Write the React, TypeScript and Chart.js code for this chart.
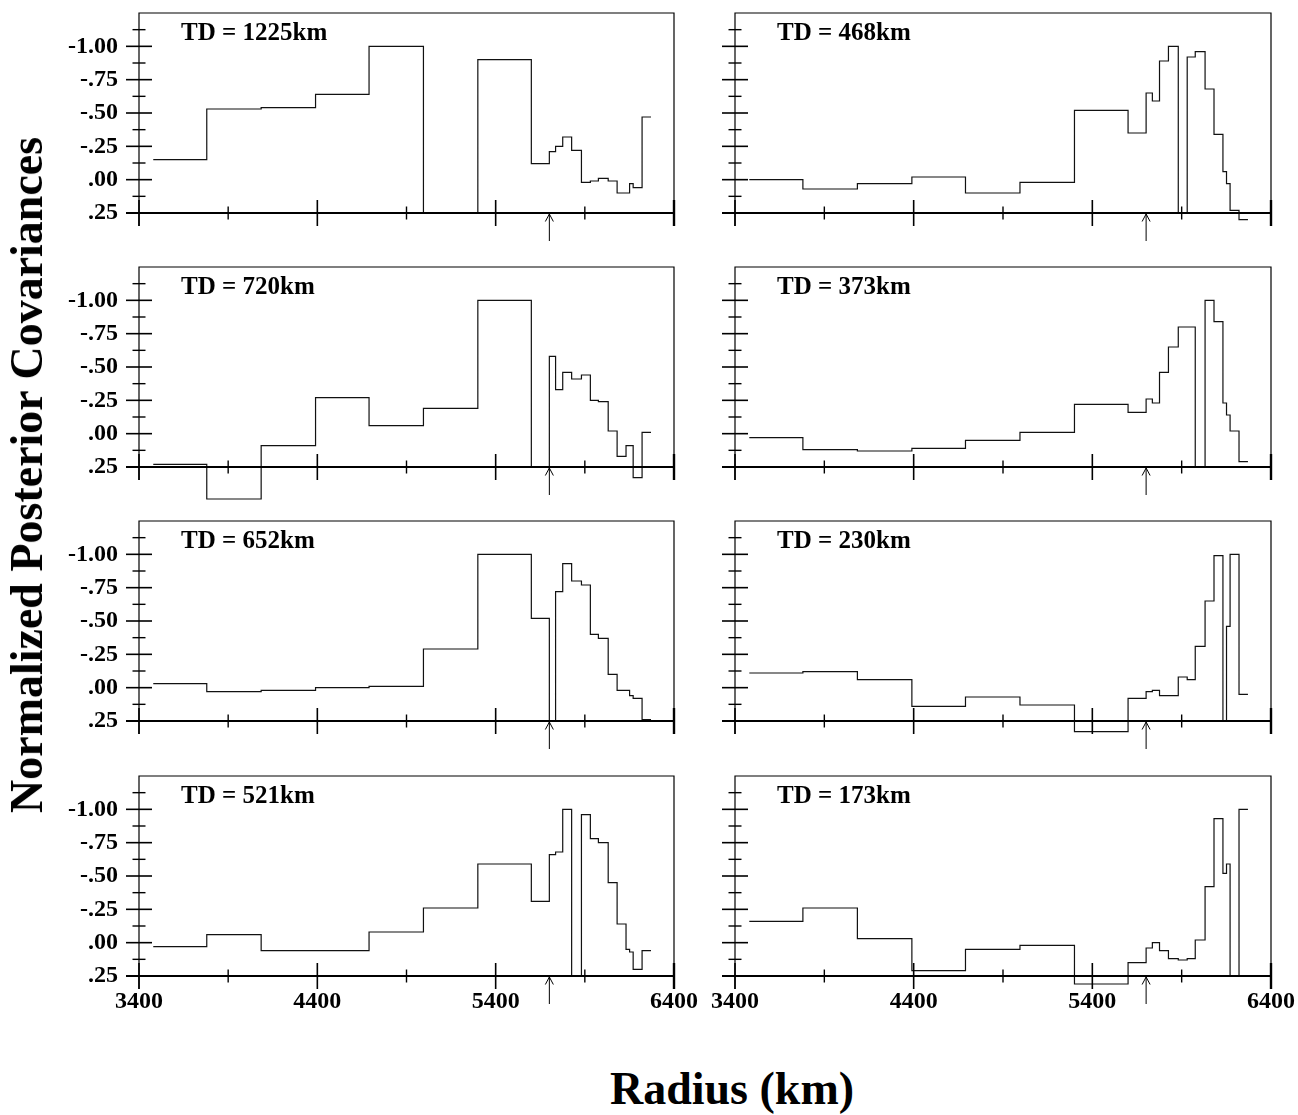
import React, { useEffect, useRef } from "react";
import { Chart, registerables } from "chart.js";

Chart.register(...registerables);

// Layer boundaries in radius (km), core-mantle boundary up to 100 km depth
const layerEdgesKm = [
  3480, 3780, 4085, 4390, 4690, 4995, 5300, 5600, 5701, 5736, 5776, 5826,
  5881, 5931, 5976, 6031, 6081, 6131, 6151, 6171, 6221, 6271,
];

// Normalized posterior covariance per layer, one list per target depth
const td1225 = [-0.15, -0.53, -0.54, -0.64, -1.0, 0.25, -0.9, -0.12, -0.21, -0.25, -0.32, -0.22, 0.02, 0.01, -0.01, 0.01, 0.1, 0.1, 0.03, 0.06, -0.47];
const td720 = [0.23, 0.49, 0.09, -0.27, -0.06, -0.19, -1.0, 0.25, -0.58, -0.33, -0.46, -0.41, -0.44, -0.25, -0.24, -0.02, 0.17, 0.09, 0.09, 0.33, -0.01];
const td652 = [-0.03, 0.03, 0.02, 0.0, -0.01, -0.29, -1.0, -0.52, 0.25, -0.72, -0.93, -0.8, -0.77, -0.4, -0.37, -0.1, 0.02, 0.02, 0.06, 0.08, 0.24];
const td521 = [0.03, -0.06, 0.06, 0.06, -0.08, -0.26, -0.59, -0.31, -0.66, -0.68, -1.0, 0.25, -0.96, -0.78, -0.75, -0.45, -0.14, 0.05, 0.07, 0.2, 0.06];
const td468 = [0.0, 0.07, 0.03, -0.02, 0.1, 0.02, -0.52, -0.35, -0.65, -0.59, -0.89, -1.0, 0.25, -0.92, -0.96, -0.68, -0.34, -0.06, 0.03, 0.23, 0.3];
const td373 = [0.03, 0.12, 0.13, 0.11, 0.05, -0.01, -0.22, -0.16, -0.26, -0.23, -0.46, -0.65, -0.8, -0.8, 0.25, -1.0, -0.84, -0.23, -0.14, -0.02, 0.21];
const td230 = [-0.11, -0.12, -0.06, 0.14, 0.07, 0.13, 0.33, 0.08, 0.03, 0.02, 0.06, 0.06, -0.08, -0.06, -0.31, -0.65, -0.99, 0.25, -0.46, -1.0, 0.05];
const td173 = [-0.16, -0.26, -0.03, 0.21, 0.05, 0.02, 0.31, 0.15, 0.04, 0.0, 0.06, 0.12, 0.13, 0.12, -0.02, -0.42, -0.93, -0.52, -0.59, 0.25, -1.0];

const leftLabels = ["TD = 1225km", "TD = 720km", "TD = 652km", "TD = 521km"];
const rightLabels = ["TD = 468km", "TD = 373km", "TD = 230km", "TD = 173km"];
const leftSeries = [td1225, td720, td652, td521];
const rightSeries = [td468, td373, td230, td173];

const xTickValues = [3400, 4400, 5400, 6400];
const xMinorTicks = [3900, 4900, 5900];
const yTickValues = [-1.0, -0.75, -0.5, -0.25, 0.0, 0.25];
const yTickLabels = ["-1.00", "-.75", "-.50", "-.25", ".00", ".25"];
const yMinorTicks = [-1.125, -0.875, -0.625, -0.375, -0.125, 0.125];
const discontinuityKm = 5701; // 670 km discontinuity

const SERIF = '"Liberation Serif", "Times New Roman", serif';

function stepPoints(values: number[]) {
  const pts: { x: number; y: number }[] = [];
  values.forEach((v, i) => {
    pts.push({ x: layerEdgesKm[i], y: v });
    pts.push({ x: layerEdgesKm[i + 1], y: v });
  });
  return pts;
}

const framePlugin = {
  id: "panelFrame",
  afterDatasetsDraw(chart: any, _args: any, opts: any) {
    const { ctx, chartArea: a, scales } = chart;
    const xs = scales.x;
    const ys = scales.y;
    ctx.save();
    ctx.strokeStyle = "#000";
    ctx.lineCap = "butt";

    // frame: left, top, right
    ctx.lineWidth = 1.2;
    ctx.beginPath();
    ctx.moveTo(a.left, a.bottom + 13);
    ctx.lineTo(a.left, a.top);
    ctx.lineTo(a.right, a.top);
    ctx.lineTo(a.right, a.bottom);
    ctx.stroke();

    // bottom axis line
    ctx.lineWidth = 1.8;
    ctx.beginPath();
    ctx.moveTo(a.left - 13, a.bottom);
    ctx.lineTo(a.right, a.bottom);
    ctx.stroke();

    // x ticks crossing the axis
    xTickValues.forEach((v) => {
      const px = xs.getPixelForValue(v);
      ctx.lineWidth = v === 6400 ? 2.4 : 1.6;
      ctx.beginPath();
      ctx.moveTo(px, a.bottom - 13);
      ctx.lineTo(px, a.bottom + 13);
      ctx.stroke();
    });
    ctx.lineWidth = 1.4;
    xMinorTicks.forEach((v) => {
      const px = xs.getPixelForValue(v);
      ctx.beginPath();
      ctx.moveTo(px, a.bottom - 6.5);
      ctx.lineTo(px, a.bottom + 6.5);
      ctx.stroke();
    });

    // y ticks crossing the left frame
    ctx.lineWidth = 1.6;
    yTickValues.forEach((v) => {
      const py = ys.getPixelForValue(v);
      ctx.beginPath();
      ctx.moveTo(a.left - 13, py);
      ctx.lineTo(a.left + 13, py);
      ctx.stroke();
    });
    ctx.lineWidth = 1.4;
    yMinorTicks.forEach((v) => {
      const py = ys.getPixelForValue(v);
      ctx.beginPath();
      ctx.moveTo(a.left - 6.5, py);
      ctx.lineTo(a.left + 6.5, py);
      ctx.stroke();
    });

    // arrow marking the 670 km discontinuity
    const ax = xs.getPixelForValue(discontinuityKm);
    ctx.lineWidth = 1;
    ctx.beginPath();
    ctx.moveTo(ax, a.bottom + 1);
    ctx.lineTo(ax, a.bottom + 28);
    ctx.moveTo(ax - 4, a.bottom + 8.5);
    ctx.lineTo(ax, a.bottom + 1);
    ctx.lineTo(ax + 4, a.bottom + 8.5);
    ctx.stroke();

    // target depth label
    ctx.fillStyle = "#000";
    ctx.font = `bold 25px ${SERIF}`;
    ctx.textAlign = "left";
    ctx.textBaseline = "alphabetic";
    ctx.fillText(opts.label, a.left + 42, a.top + 26.5);
    ctx.restore();
  },
};

type PanelProps = {
  left: number;
  top: number;
  width: number;
  axisWidth: number;
  padRight: number;
  values: number[];
  label: string;
  showY: boolean;
  showX: boolean;
};

function Panel({ left, top, width, axisWidth, padRight, values, label, showY, showX }: PanelProps) {
  const ref = useRef<HTMLCanvasElement | null>(null);
  const height = 250;

  useEffect(() => {
    if (!ref.current) return;
    const font = { family: SERIF, size: 24, weight: "bold" as const };
    const chart = new Chart(ref.current, {
      type: "line",
      data: {
        datasets: [
          {
            data: stepPoints(values),
            borderColor: "#111",
            borderWidth: 1.2,
            pointRadius: 0,
            fill: false,
            tension: 0,
            clip: false as any,
          },
        ],
      },
      options: {
        animation: false,
        responsive: false,
        maintainAspectRatio: false,
        events: [],
        layout: { padding: { top: 10, right: padRight, left: 0, bottom: 0 } },
        plugins: {
          legend: { display: false },
          tooltip: { enabled: false },
          title: { display: false },
          panelFrame: { label },
        } as any,
        scales: {
          x: {
            type: "linear",
            min: 3400,
            max: 6400,
            grid: { display: false, drawTicks: false },
            border: { display: false },
            ticks: {
              display: showX,
              font,
              color: "#000",
              padding: 11,
              maxRotation: 0,
              autoSkip: false,
              callback: (v: any) => String(v),
            },
            afterBuildTicks: (s: any) => {
              s.ticks = xTickValues.map((v) => ({ value: v }));
            },
            afterFit: (s: any) => {
              s.height = 40;
              s.paddingLeft = 0;
              s.paddingRight = 0;
            },
          },
          y: {
            type: "linear",
            min: -1.25,
            max: 0.25,
            reverse: true,
            grid: { display: false, drawTicks: false },
            border: { display: false },
            ticks: {
              display: showY,
              font,
              color: "#000",
              padding: 21,
              autoSkip: false,
              callback: (v: any) => {
                const i = yTickValues.findIndex((t) => Math.abs(t - v) < 1e-6);
                return i >= 0 ? yTickLabels[i] : "";
              },
            },
            afterBuildTicks: (s: any) => {
              s.ticks = yTickValues.map((v) => ({ value: v }));
            },
            afterFit: (s: any) => {
              s.width = axisWidth;
              s.paddingTop = 0;
              s.paddingBottom = 0;
            },
          },
        },
      },
      plugins: [framePlugin],
    });
    return () => chart.destroy();
  }, [values, label, showX, showY, axisWidth, padRight]);

  return (
    <canvas
      ref={ref}
      width={width}
      height={height}
      style={{ position: "absolute", left, top, width, height }}
    />
  );
}

const rowTops = [3, 257, 511, 766];

export default function App() {
  return (
    <div
      style={{
        position: "absolute",
        left: 0,
        top: 0,
        width: 1298,
        height: 1115,
        background: "#fff",
        overflow: "hidden",
      }}
    >
      {leftSeries.map((vals, r) => (
        <Panel
          key={"L" + r}
          left={0}
          top={rowTops[r]}
          width={705}
          axisWidth={139}
          padRight={31}
          values={vals}
          label={leftLabels[r]}
          showY={true}
          showX={r === 3}
        />
      ))}
      {rightSeries.map((vals, r) => (
        <Panel
          key={"R" + r}
          left={705}
          top={rowTops[r]}
          width={593}
          axisWidth={30}
          padRight={27}
          values={vals}
          label={rightLabels[r]}
          showY={false}
          showX={r === 3}
        />
      ))}
      <div
        style={{
          position: "absolute",
          left: 26.5,
          top: 475,
          transform: "translate(-50%, -50%) rotate(-90deg)",
          whiteSpace: "nowrap",
          fontFamily: SERIF,
          fontWeight: "bold",
          fontSize: 46,
          lineHeight: "46px",
          color: "#000",
        }}
      >
        Normalized Posterior Covariances
      </div>
      <div
        style={{
          position: "absolute",
          left: 732,
          top: 1066,
          transform: "translateX(-50%)",
          whiteSpace: "nowrap",
          fontFamily: SERIF,
          fontWeight: "bold",
          fontSize: 46,
          lineHeight: "46px",
          color: "#000",
        }}
      >
        Radius (km)
      </div>
    </div>
  );
}
